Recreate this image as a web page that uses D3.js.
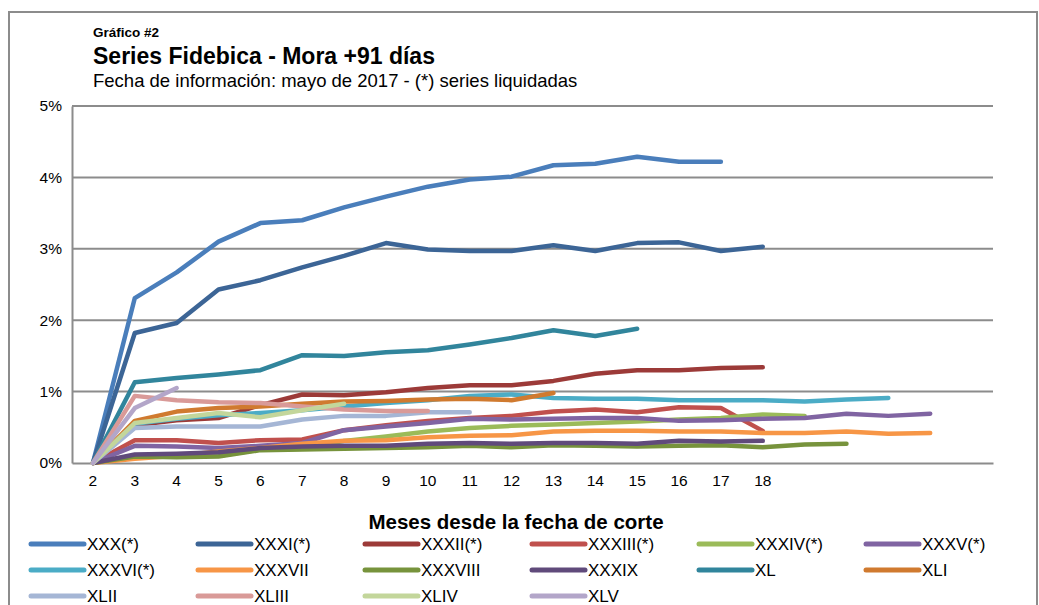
<!DOCTYPE html>
<html>
<head>
<meta charset="utf-8">
<script src="https://cdn.jsdelivr.net/npm/d3@7"></script>
<style>
body { margin: 0; background: #fff; }
text { font-family: "Liberation Sans", Arial, sans-serif; }
</style>
</head>
<body>
<div id="chart"></div>
<script>
// months since cut-off date (22 slots on the axis, labels only up to 18)
var months = d3.range(2, 24);
var tickLabels = ["2","3","4","5","6","7","8","9","10","11","12","13","14","15","16","17","18","","","","",""];
var yTicks = [0, 1, 2, 3, 4, 5];

var seriesNames = ["XXX(*)","XXXI(*)","XXXII(*)","XXXIII(*)","XXXIV(*)","XXXV(*)",
                   "XXXVI(*)","XXXVII","XXXVIII","XXXIX","XL","XLI",
                   "XLII","XLIII","XLIV","XLV"];
var seriesColors = ["#4a7ebb","#3c6596","#9c3a38","#c0504d","#9bbb59","#8064a2",
                    "#4bacc6","#f79646","#77933c","#604a7b","#31859c","#d07a2f",
                    "#a5b6d5","#d99a98","#c3d69b","#b3a6c9"];

// values in % , starting at month 2
var sXXX    = [0,2.31,2.67,3.10,3.36,3.40,3.58,3.73,3.87,3.97,4.01,4.17,4.19,4.29,4.22,4.22];
var sXXXI   = [0,1.82,1.96,2.43,2.56,2.74,2.90,3.08,2.99,2.97,2.97,3.05,2.97,3.08,3.09,2.97,3.03];
var sXXXII  = [0,0.53,0.60,0.63,0.81,0.96,0.95,0.99,1.05,1.09,1.09,1.15,1.25,1.30,1.30,1.33,1.34];
var sXXXIII = [0,0.32,0.32,0.28,0.32,0.33,0.46,0.53,0.59,0.63,0.66,0.72,0.75,0.71,0.78,0.77,0.45];
var sXXXIV  = [0,0.10,0.11,0.10,0.19,0.20,0.31,0.37,0.44,0.49,0.52,0.54,0.56,0.58,0.61,0.63,0.68,0.66];
var sXXXV   = [0,0.24,0.23,0.21,0.24,0.28,0.46,0.51,0.56,0.62,0.61,0.62,0.63,0.63,0.59,0.60,0.62,0.63,0.69,0.66,0.69];
var sXXXVI  = [0,0.55,0.62,0.67,0.70,0.74,0.79,0.84,0.88,0.94,0.96,0.91,0.90,0.90,0.88,0.88,0.88,0.86,0.89,0.91];
var sXXXVII = [0,0.06,0.10,0.16,0.21,0.27,0.31,0.32,0.36,0.38,0.39,0.44,0.45,0.45,0.44,0.44,0.42,0.42,0.44,0.41,0.42];
var sXXXVIII= [0,0.09,0.08,0.09,0.18,0.19,0.20,0.21,0.22,0.24,0.22,0.25,0.24,0.23,0.24,0.25,0.22,0.26,0.27];
var sXXXIX  = [0,0.12,0.13,0.15,0.21,0.23,0.24,0.24,0.27,0.28,0.27,0.28,0.28,0.27,0.31,0.30,0.31];
var sXL     = [0,1.13,1.19,1.24,1.30,1.51,1.50,1.55,1.58,1.66,1.75,1.86,1.78,1.88];
var sXLI    = [0,0.59,0.72,0.77,0.79,0.83,0.86,0.87,0.89,0.90,0.88,0.98];
var sXLII   = [0,0.49,0.51,0.51,0.51,0.61,0.66,0.66,0.71,0.71];
var sXLIII  = [0,0.94,0.88,0.85,0.84,0.79,0.75,0.73,0.73];
var sXLIV   = [0,0.56,0.63,0.70,0.64,0.74,0.83];
var sXLV    = [0,0.77,1.05];

var seriesValues = [sXXX,sXXXI,sXXXII,sXXXIII,sXXXIV,sXXXV,sXXXVI,sXXXVII,
                    sXXXVIII,sXXXIX,sXL,sXLI,sXLII,sXLIII,sXLIV,sXLV];

var series = seriesNames.map(function(n, i) {
    return { name: n, color: seriesColors[i], values: seriesValues[i] };
});

var width = 1039, height = 605;
var svg = d3.select("#chart").append("svg")
    .attr("width", width)
    .attr("height", height);

// outer frame
svg.append("rect")
    .attr("x", 9).attr("y", 12)
    .attr("width", 1028).attr("height", 620)
    .attr("fill", "none")
    .attr("stroke", "#8c8c8c")
    .attr("stroke-width", 2);

// titles
svg.append("text").attr("x", 93).attr("y", 37)
    .attr("font-size", 13.5).attr("font-weight", "bold")
    .text("Gráfico #2");
svg.append("text").attr("x", 93).attr("y", 64)
    .attr("font-size", 23).attr("font-weight", "bold")
    .text("Series Fidebica - Mora +91 días");
svg.append("text").attr("x", 93).attr("y", 87)
    .attr("font-size", 18.5)
    .text("Fecha de información: mayo de 2017 - (*) series liquidadas");

var xScale = d3.scaleBand().domain(months).range([72, 993]).padding(0);
var xPos = function(m) { return xScale(m) + xScale.bandwidth() / 2; };
var yScale = d3.scaleLinear().domain([0, 5]).range([463, 106]);

// gridlines
svg.append("g")
    .selectAll("line")
    .data(yTicks.slice(1))
    .enter().append("line")
    .attr("x1", 72).attr("x2", 993)
    .attr("y1", function(d) { return yScale(d); })
    .attr("y2", function(d) { return yScale(d); })
    .attr("stroke", "#8c8c8c")
    .attr("stroke-width", 2);

// y axis
var yAxis = d3.axisLeft(yScale).tickValues(yTicks)
    .tickFormat(function(d) { return d + "%"; })
    .tickSize(0).tickPadding(10);
var gy = svg.append("g").attr("transform", "translate(72,0)").call(yAxis);
gy.select(".domain").attr("stroke", "#8c8c8c").attr("stroke-width", 2);
gy.selectAll("text").attr("font-size", 15.5).attr("fill", "#000")
    .attr("font-family", "'Liberation Sans', Arial, sans-serif");

// x axis
var xAxis = d3.axisBottom(xScale)
    .tickFormat(function(d, i) { return tickLabels[i]; })
    .tickSize(0).tickPadding(12);
var gx = svg.append("g").attr("transform", "translate(0,463)").call(xAxis);
gx.select(".domain").attr("stroke", "#8c8c8c").attr("stroke-width", 2);
gx.selectAll("text").attr("font-size", 15.5).attr("fill", "#000")
    .attr("font-family", "'Liberation Sans', Arial, sans-serif");

// lines, later series drawn on top
var line = d3.line()
    .x(function(d, i) { return xPos(months[i]); })
    .y(function(d) { return yScale(d); });

svg.append("g")
    .selectAll("path")
    .data(series)
    .enter().append("path")
    .attr("d", function(d) { return line(d.values); })
    .attr("fill", "none")
    .attr("stroke", function(d) { return d.color; })
    .attr("stroke-width", 4.5)
    .attr("stroke-linecap", "round")
    .attr("stroke-linejoin", "round");

// x axis title
svg.append("text").attr("x", 516).attr("y", 529)
    .attr("text-anchor", "middle")
    .attr("font-size", 20.5).attr("font-weight", "bold")
    .text("Meses desde la fecha de corte");

// legend
var legend = svg.append("g")
    .selectAll("g")
    .data(series)
    .enter().append("g")
    .attr("transform", function(d, i) {
        return "translate(" + (31 + (i % 6) * 167) + "," + (544 + Math.floor(i / 6) * 26) + ")";
    });
legend.append("line")
    .attr("x1", 0).attr("x2", 53)
    .attr("stroke", function(d) { return d.color; })
    .attr("stroke-width", 5)
    .attr("stroke-linecap", "round");
legend.append("text")
    .attr("x", 56).attr("y", 5.5)
    .attr("font-size", 17)
    .text(function(d) { return d.name; });
</script>
</body>
</html>
